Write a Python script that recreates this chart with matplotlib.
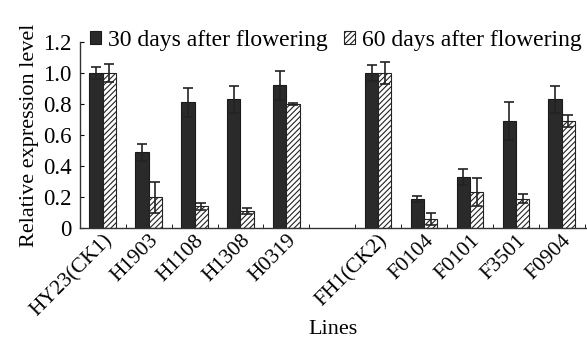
import numpy as np
import matplotlib
matplotlib.use("Agg")
import matplotlib.pyplot as plt

plt.rcParams['font.family'] = ['Liberation Serif', 'DejaVu Serif']
plt.rcParams['hatch.color'] = '#555555'
plt.rcParams['hatch.linewidth'] = 0.8

# data (empty string = gap slot)
lines = ['HY23(CK1)', 'H1903', 'H1108', 'H1308', 'H0319', '',
         'FH1(CK2)', 'F0104', 'F0101', 'F3501', 'F0904']
d30 = [1.00, 0.49, 0.81, 0.83, 0.92, np.nan, 1.00, 0.19, 0.33, 0.69, 0.83]
d30_err = [0.04, 0.055, 0.095, 0.085, 0.095, np.nan, 0.05, 0.02, 0.05, 0.12, 0.085]
d60 = [1.00, 0.20, 0.14, 0.11, 0.80, np.nan, 1.00, 0.06, 0.23, 0.19, 0.69]
d60_err = [0.06, 0.10, 0.02, 0.02, 0.005, np.nan, 0.07, 0.04, 0.09, 0.03, 0.04]

fig = plt.figure(figsize=(5.87, 3.41), dpi=100)
ax = fig.add_axes([0.136, 0.331, 0.864, 0.546])

x = np.arange(len(lines))
w = 0.29
ekw = dict(ecolor='#222222', elinewidth=1.2, capsize=3.5, capthick=1.2)
ax.bar(x - w / 2, d30, w, color='#2a2a2a', edgecolor='#1a1a1a', linewidth=0.8,
       yerr=d30_err, error_kw=ekw, label='30 days after flowering')
ax.bar(x + w / 2, d60, w, color='white', edgecolor='#222222', linewidth=0.8, hatch='//////',
       yerr=d60_err, error_kw=ekw, label='60 days after flowering')

ax.set_xlim(-0.5, len(lines) - 0.45)
ax.set_ylim(0, 1.2)
ax.set_yticks([0, 0.2, 0.4, 0.6, 0.8, 1.0, 1.2])
ax.set_yticklabels(['0', '0.2', '0.4', '0.6', '0.8', '1.0', '1.2'], fontsize=16.5)
ax.set_xticks(x)
ax.set_xticklabels(lines, rotation=45, ha='right', rotation_mode='anchor', fontsize=15.5)
ax.set_xticks(np.arange(len(lines) + 1) - 0.5, minor=True)
ax.tick_params(axis='x', which='major', length=0, pad=2)
ax.tick_params(axis='x', which='minor', direction='in', length=3)
ax.tick_params(axis='y', direction='in', length=3, pad=6)

for s in ['top', 'right']:
    ax.spines[s].set_visible(False)
for s in ['left', 'bottom']:
    ax.spines[s].set_linewidth(1.0)
    ax.spines[s].set_color('#333333')

ax.set_ylabel('Relative expression level', fontsize=16, labelpad=3)
ax.set_xlabel('Lines', fontsize=16, labelpad=0)

ax.legend(loc='lower left', bbox_to_anchor=(0.02, 0.95), ncol=2, frameon=False, fontsize=17,
          handlelength=0.45, handleheight=0.45, handletextpad=0.3, columnspacing=0.7,
          borderaxespad=0, borderpad=0)

fig.savefig('out.png', dpi=100)
